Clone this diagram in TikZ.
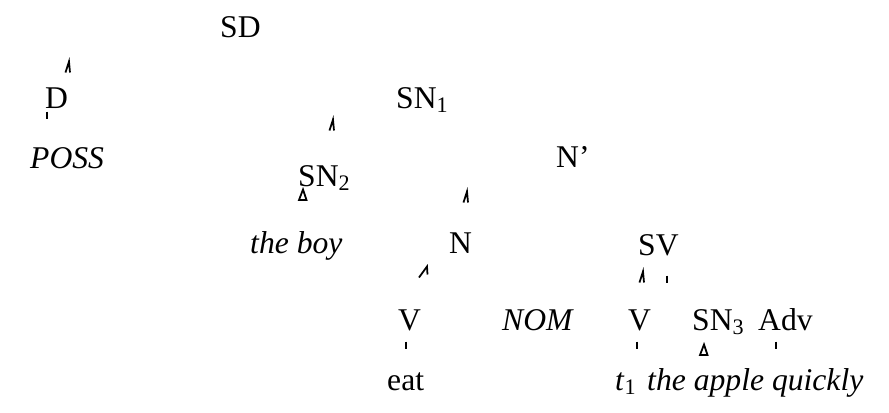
\documentclass[tikz,border=0pt]{standalone}
\usepackage{fontspec}
\setmainfont{Liberation Serif}
\usepackage{tikz}
\usetikzlibrary{positioning}

\begin{document}
\begin{tikzpicture}[
  x=0.03cm, y=-0.03cm,
  lbl/.style={anchor=base west, inner sep=0pt, font=\fontsize{27}{32}\selectfont},
  ilbl/.style={lbl, font=\fontsize{27}{32}\selectfont\itshape},
  frag/.style={line width=1.5pt, line cap=butt},
  pics/hat/.style={code={\draw[frag] (-3.5,5.5) -- (0,-5.5) -- (1,5.5);}},
  pics/wide hat/.style={code={\draw[frag] (-7,5.5) -- (1,-5.5) -- (1.5,2.5);}},
  pics/stub/.style={code={\draw[frag] (0,-3.5) -- (0,3.5);}},
  pics/tri/.style={code={\draw[frag] (1,-5.5) -- (-3,5) -- (4.5,5) -- cycle;}}
]
\useasboundingbox (0,0) rectangle (889,412);

% top levels
\node[lbl] (sd) at (220,37) {SD};
\node[lbl] (d) at (45,108) {D};
\node[lbl] (sn1) at (396,108) {SN\textsubscript{1}};
\node[ilbl] (poss) at (30,168) {POSS};
\node[lbl] (sn2) at (298,186) {SN\textsubscript{2}};
\node[lbl] (nbar) at (556,167) {N'};

% middle levels
\node[ilbl] (boy) at (250,253) {the boy};
\node[lbl] (n) at (449,253) {N};
\node[lbl] (sv) at (638,255) {SV};

\node[lbl] (v1) at (398,330) {V};
\node[ilbl] (nom) at (502,330) {NOM};
\node[lbl] (v2) at (628,330) {V};
\node[lbl] (sn3) at (692,330) {SN\textsubscript{3}};
\node[lbl] (adv) at (758,330) {Adv};

% leaves
\node[lbl] (eat) at (387,390) {eat};
\node[lbl] (trace) at (615,390) {\textit{t}\textsubscript{1}};
\node[ilbl] (obj) at (647,390) {the apple quickly};

% branch remnants
\pic at (69,67) {hat};
\pic at (47,115) {stub};
\pic at (333,125) {hat};
\pic at (302,195) {tri};
\pic at (467,197) {hat};
\pic at (426,272) {wide hat};
\pic at (643,277) {hat};
\pic at (667,279) {stub};
\pic at (406,345) {stub};
\pic at (637,345) {stub};
\pic at (776,345) {stub};
\pic at (703,350) {tri};

\end{tikzpicture}
\end{document}
